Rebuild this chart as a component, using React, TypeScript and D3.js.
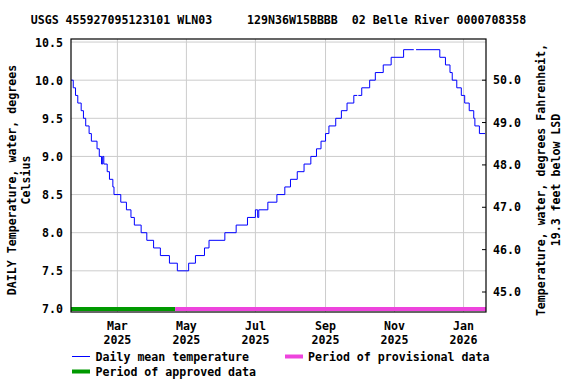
import React, { useEffect, useRef } from "react";
import * as d3 from "d3";

// daily mean water temperature, stored as the days where the value changes (null = missing data)
const stepDates = [
  "2025-01-19", "2025-01-21", "2025-01-23", "2025-01-25", "2025-01-28", "2025-01-30",
  "2025-02-01", "2025-02-04", "2025-02-06", "2025-02-11", "2025-02-13", "2025-02-15",
  "2025-02-16", "2025-02-17", "2025-02-20", "2025-02-22", "2025-02-25", "2025-02-26",
  "2025-03-04", "2025-03-09", "2025-03-13", "2025-03-16", "2025-03-22", "2025-03-27",
  "2025-04-02", "2025-04-08", "2025-04-16", "2025-04-23", "2025-05-03", "2025-05-09",
  "2025-05-17", "2025-05-21", "2025-06-04", "2025-06-14", "2025-06-24", "2025-07-01",
  "2025-07-03", "2025-07-04", "2025-07-12", "2025-07-20", "2025-07-27", "2025-08-01",
  "2025-08-07", "2025-08-13", "2025-08-19", "2025-08-24", "2025-08-28", "2025-09-01",
  "2025-09-04", "2025-09-10", "2025-09-15", "2025-09-20", "2025-09-26", "2025-09-29",
  "2025-09-30", "2025-10-03", "2025-10-10", "2025-10-15", "2025-10-22", "2025-10-29",
  "2025-11-09", "2025-11-18", "2025-11-20", "2025-12-11", "2025-12-16", "2025-12-20",
  "2025-12-22", "2025-12-26", "2025-12-30", "2026-01-02", "2026-01-06", "2026-01-10",
  "2026-01-11", "2026-01-15", "2026-01-20",
];
const stepValues = [
  10.0, 9.9, 9.8, 9.7, 9.6, 9.5,
  9.4, 9.3, 9.2, 9.1, 9.0, 8.9,
  9.0, 8.9, 8.8, 8.7, 8.6, 8.5,
  8.4, 8.3, 8.2, 8.1, 8.0, 7.9,
  7.8, 7.7, 7.6, 7.5, 7.6, 7.7,
  7.8, 7.9, 8.0, 8.1, 8.2, 8.3,
  8.2, 8.3, 8.4, 8.5, 8.6, 8.7,
  8.8, 8.9, 9.0, 9.1, 9.2, 9.3,
  9.4, 9.5, 9.6, 9.7, 9.8, null,
  9.8, 9.9, 10.0, 10.1, 10.2, 10.3,
  10.4, null, 10.4, 10.3, 10.2, 10.1,
  10.0, 9.9, 9.8, 9.7, 9.6, 9.5,
  9.4, 9.3, 9.3,
];

const periodNames = ["approved", "provisional"];
const periodStarts = ["2025-01-19", "2025-04-21"];
const periodEnds = ["2025-04-21", "2026-01-22"];

const celsiusTicks = [7.0, 7.5, 8.0, 8.5, 9.0, 9.5, 10.0, 10.5];
const fahrenheitTicks = [45, 46, 47, 48, 49, 50];

const title = "USGS 455927095123101 WLN03     129N36W15BBBB  02 Belle River 0000708358";
const leftTitle = ["DAILY Temperature, water, degrees", "Celsius"];
const rightTitle = ["Temperature, water, degrees Fahrenheit,", "19.3 feet below LSD"];

const periodColors: Record<string, string> = { approved: "#009900", provisional: "#ee44dd" };

const App = () => {
  const svgRef = useRef<SVGSVGElement>(null);

  useEffect(() => {
    const svg = d3.select(svgRef.current);
    svg.selectAll("*").remove();

    const left = 71, right = 486, top = 39, bottom = 312;
    const font = "'DejaVu Sans Mono', 'Liberation Mono', monospace";
    const fs = 11.6;
    const parse = d3.timeParse("%Y-%m-%d");

    const x = d3
      .scaleTime()
      .domain([new Date(2025, 0, 19), new Date(2026, 0, 20, 20)])
      .range([left, right])
      .clamp(true);
    const y = d3.scaleLinear().domain([6.96, 10.54]).range([bottom, top]);
    const toC = (f: number) => (f - 32) / 1.8;

    const text = (tx: number, ty: number, s: string, anchor = "start") =>
      svg
        .append("text")
        .attr("x", tx)
        .attr("y", ty)
        .attr("text-anchor", anchor)
        .attr("font-family", font)
        .attr("font-weight", "bold")
        .attr("font-size", fs)
        .attr("fill", "#000")
        .text(s);

    // gridlines
    const monthTicks = x.ticks(d3.timeMonth.every(2));
    svg
      .append("g")
      .selectAll("line")
      .data(celsiusTicks)
      .join("line")
      .attr("x1", left)
      .attr("x2", right)
      .attr("y1", (d) => y(d))
      .attr("y2", (d) => y(d))
      .attr("stroke", "#cccccc")
      .attr("stroke-width", 1);
    svg
      .append("g")
      .selectAll("line")
      .data(monthTicks)
      .join("line")
      .attr("x1", (d) => x(d))
      .attr("x2", (d) => x(d))
      .attr("y1", top)
      .attr("y2", bottom)
      .attr("stroke", "#cccccc")
      .attr("stroke-width", 1);

    // approval period bars
    periodNames.forEach((name, i) => {
      svg
        .append("line")
        .attr("x1", x(parse(periodStarts[i])!))
        .attr("x2", x(parse(periodEnds[i])!))
        .attr("y1", y(7.0))
        .attr("y2", y(7.0))
        .attr("stroke", periodColors[name])
        .attr("stroke-width", 4);
    });

    // daily mean line
    const pts: { date: Date; v: number | null }[] = [];
    stepDates.forEach((ds, i) => {
      const date = parse(ds)!;
      const v = stepValues[i];
      if (v == null) {
        const prev = pts[pts.length - 1];
        pts.push({ date, v: prev ? prev.v : null });
      }
      pts.push({ date, v });
    });
    const line = d3
      .line<{ date: Date; v: number | null }>()
      .defined((d) => d.v != null)
      .x((d) => x(d.date))
      .y((d) => y(d.v as number))
      .curve(d3.curveStepAfter);
    svg
      .append("path")
      .attr("d", line(pts))
      .attr("fill", "none")
      .attr("stroke", "#0000ff")
      .attr("stroke-width", 1);

    // frame
    svg
      .append("rect")
      .attr("x", left)
      .attr("y", top)
      .attr("width", right - left)
      .attr("height", bottom - top)
      .attr("fill", "none")
      .attr("stroke", "#000")
      .attr("stroke-width", 1.2);

    // left axis labels
    celsiusTicks.forEach((t) => text(63, y(t) + 4.5, t.toFixed(1), "end"));

    // right axis ticks + labels (Fahrenheit)
    fahrenheitTicks.forEach((f) => {
      const ty = y(toC(f));
      svg
        .append("line")
        .attr("x1", right - 4)
        .attr("x2", right)
        .attr("y1", ty)
        .attr("y2", ty)
        .attr("stroke", "#000");
      text(493, ty + 4, f.toFixed(1), "start");
    });

    // x axis labels
    monthTicks.forEach((d) => {
      text(x(d), 330, d3.timeFormat("%b")(d), "middle");
      text(x(d), 343.5, d3.timeFormat("%Y")(d), "middle");
    });

    // titles
    text((left + right) / 2, 24, title, "middle").style("white-space", "pre");
    leftTitle.forEach((s, i) =>
      text(0, 0, s, "middle").attr("transform", `translate(${16 + i * 13.5},180) rotate(-90)`)
    );
    rightTitle.forEach((s, i) =>
      text(0, 0, s, "middle").attr("transform", `translate(${545 + i * 14.5},180) rotate(-90)`)
    );

    // legend
    svg
      .append("line")
      .attr("x1", 72)
      .attr("x2", 90)
      .attr("y1", 356.5)
      .attr("y2", 356.5)
      .attr("stroke", "#0000ff")
      .attr("stroke-width", 1);
    text(95.5, 361, "Daily mean temperature");
    svg
      .append("line")
      .attr("x1", 285)
      .attr("x2", 303)
      .attr("y1", 356.5)
      .attr("y2", 356.5)
      .attr("stroke", periodColors.provisional)
      .attr("stroke-width", 4);
    text(308, 361, "Period of provisional data");
    svg
      .append("line")
      .attr("x1", 72)
      .attr("x2", 90)
      .attr("y1", 371.5)
      .attr("y2", 371.5)
      .attr("stroke", periodColors.approved)
      .attr("stroke-width", 4);
    text(95.5, 375.5, "Period of approved data");
  }, []);

  return (
    <svg
      ref={svgRef}
      width={576}
      height={384}
      xmlns="http://www.w3.org/2000/svg"
      style={{ position: "absolute", left: 0, top: 0, background: "#fff" }}
    ></svg>
  );
};

export default App;
